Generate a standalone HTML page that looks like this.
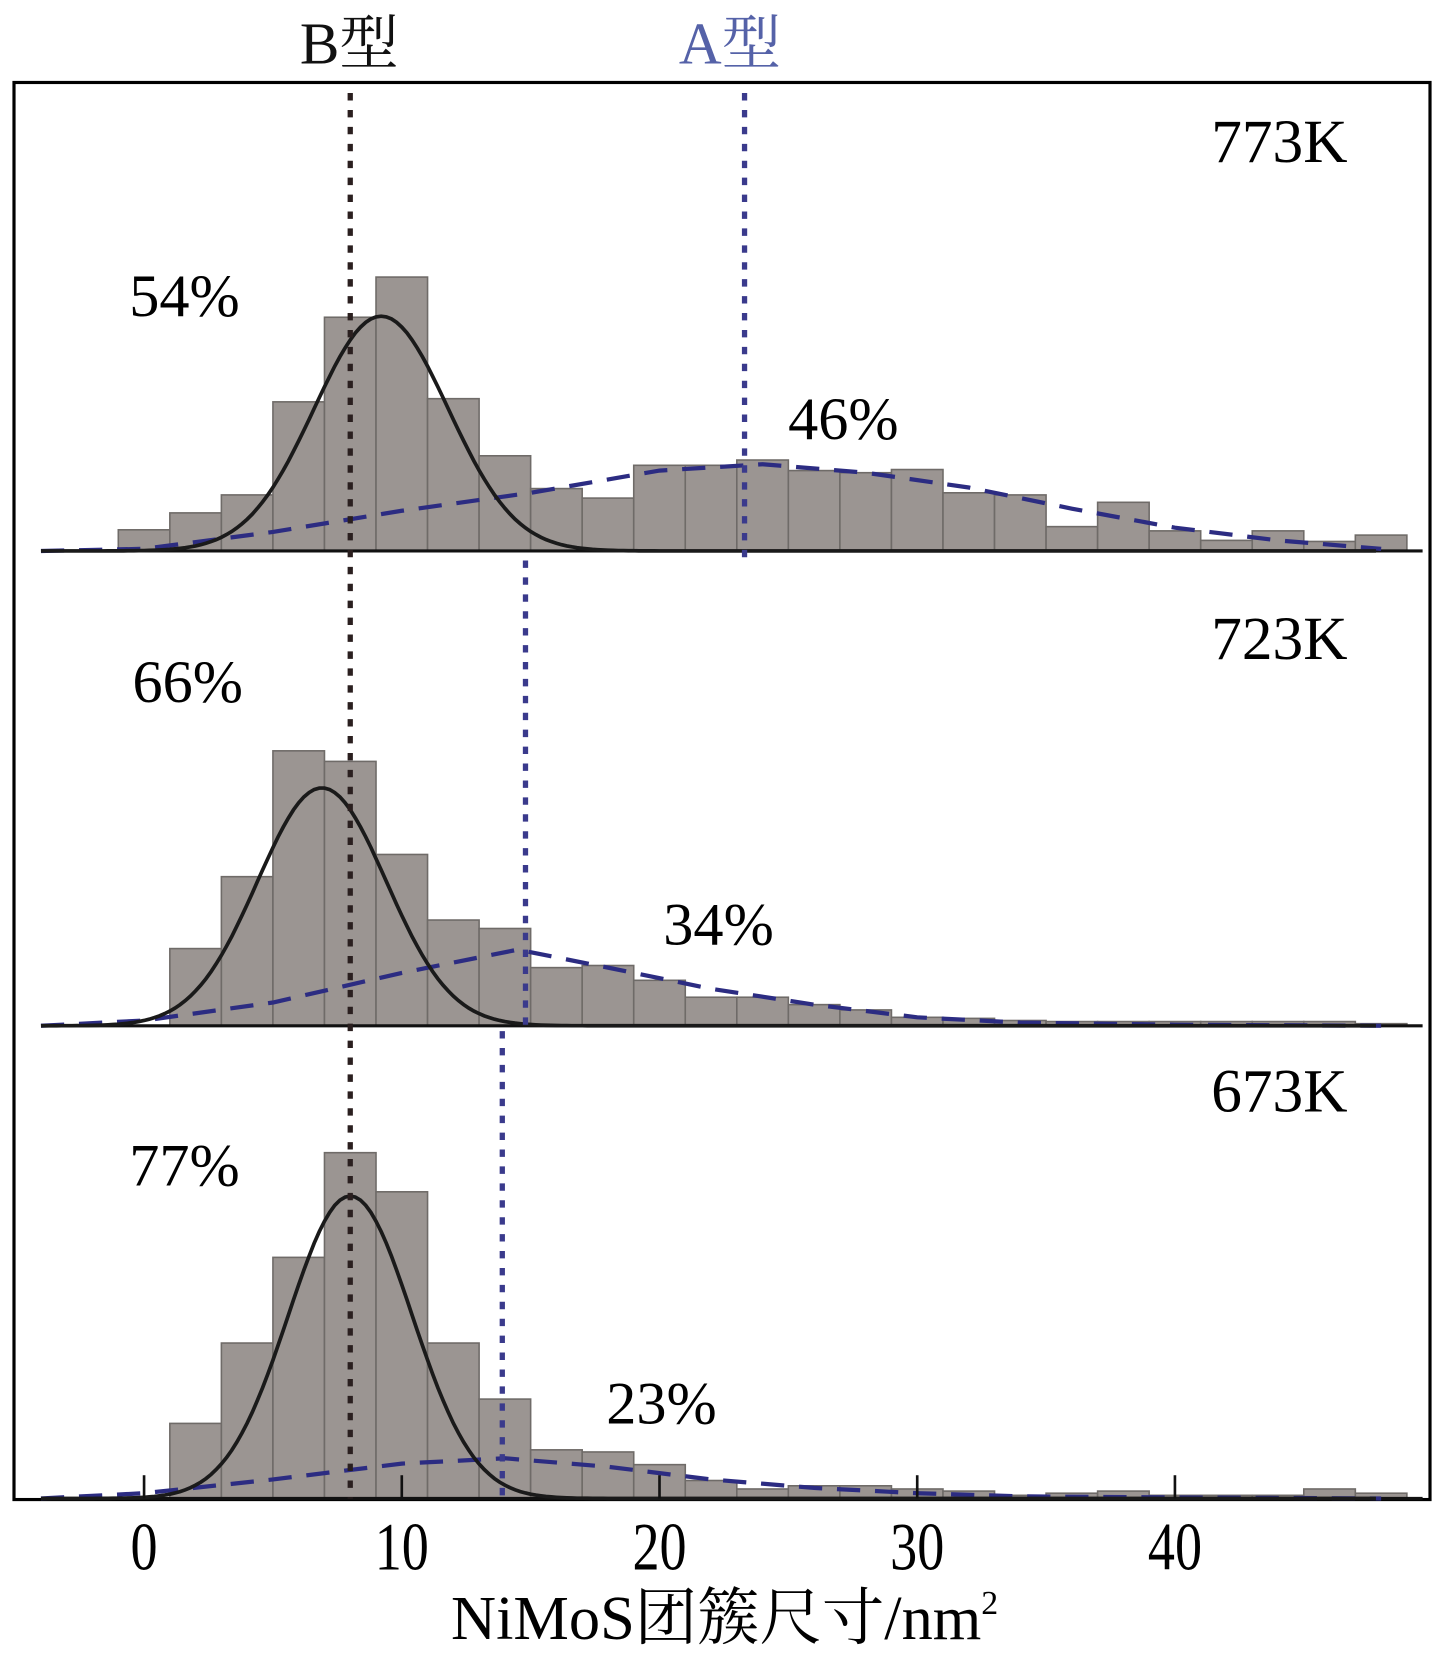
<!DOCTYPE html>
<html><head><meta charset="utf-8"><style>
html,body{margin:0;padding:0;background:#fff}
svg{display:block}
text{font-family:"Liberation Serif","Noto Serif CJK SC",serif}
</style></head><body>
<svg id="chart" width="1444" height="1655" viewBox="0 0 1365 1565" xmlns="http://www.w3.org/2000/svg">
<rect x="13" y="78" width="1339" height="1340" fill="#fff" stroke="#000" stroke-width="3"/>
<g id="marks"></g>
<text x="330" y="60" font-size="56" text-anchor="middle" fill="#111">B型</text>
<text x="690" y="60" font-size="56" text-anchor="middle" fill="#5562a8">A型</text>
<text x="1274" y="153" font-size="58" text-anchor="end">773K</text>
<text x="1274" y="623" font-size="58" text-anchor="end">723K</text>
<text x="1274" y="1051" font-size="58" text-anchor="end">673K</text>
<text x="122" y="299" font-size="57">54%</text>
<text x="745" y="415" font-size="57">46%</text>
<text x="125" y="664" font-size="57">66%</text>
<text x="627" y="893" font-size="57">34%</text>
<text x="122" y="1121" font-size="57">77%</text>
<text x="573" y="1346" font-size="57">23%</text>
<text x="685" y="1550" font-size="59" text-anchor="middle">NiMoS团簇尺寸/nm<tspan font-size="32" dy="-24">2</tspan></text>
</svg>
<script>
const binCenters=[0,2,4,6,8,10,12,14,16,18,20,22,24,26,28,30,32,34,36,38,40,42,44,46,48];
const counts773=[20,36,53,141,221,259,144,90,59,50,81,81,86,76,74,77,55,53,23,46,19,10,19,9,15];
const counts723=[0,73,141,260,250,162,100,92,55,57,43,27,27,20,15,8,7,5,4,4,4,4,4,4,2];
const counts673=[0,71,147,228,327,290,147,94,46,44,32,17,9,12,12,9,7,3,5,7,3,3,3,9,5];
const gauss773=[9.2,2.6,222];
const gauss723=[6.9,2.5,225];
const gauss673=[8.0,2.4,286];
const dashX773=[-4,0,5,10,15,20,24,28,32,36,40,44,48];
const dashY773=[0,2,18,38,55,76,82,74,60,40,22,10,2];
const dashX723=[-4,0,5,10,14.5,18,22,26,30,34,40,48];
const dashY723=[0,5,22,50,72,55,35,20,8,3,1,0];
const dashX673=[-4,0,5,10,14,18,22,26,30,34,40,48];
const dashY673=[0,5,18,33,38,30,18,10,5,2,1,0];
const bTypeX=8;
const aTypeX=[23.3,14.8,13.9];
const xTicks=[0,10,20,30,40];

const NS='http://www.w3.org/2000/svg';
const g=document.getElementById('marks');
const xs=v=>136+v*24.37;
const panels=[
 {name:'773k',base:521,top:88,counts:counts773,gauss:gauss773,dx:dashX773,dy:dashY773},
 {name:'723k',base:970,top:530,counts:counts723,gauss:gauss723,dx:dashX723,dy:dashY723},
 {name:'673k',base:1417,top:975,counts:counts673,gauss:gauss673,dx:dashX673,dy:dashY673}
];
function mk(tag,attrs){const e=document.createElementNS(NS,tag);for(const k in attrs)e.setAttribute(k,attrs[k]);g.appendChild(e);return e;}
panels.forEach((p,pi)=>{
  p.counts.forEach((c,i)=>{
    if(c<=0)return;
    const r=mk('rect',{x:xs(binCenters[i]-1),y:p.base-c,width:xs(2)-xs(0),height:c,fill:'#9b9592',stroke:'#6f6b68','stroke-width':1.5});
    
    
  });
  const bl=mk('line',{x1:40,x2:1345,y1:p.base,y2:p.base,stroke:'#111','stroke-width':3});
  
  
  let d='';
  p.dx.forEach((x,i)=>{d+=(i?'L':'M')+xs(x).toFixed(1)+','+(p.base-p.dy[i]).toFixed(1);});
  const dc=mk('path',{d:d,fill:'none',stroke:'#2c2c82','stroke-width':4,'stroke-dasharray':'22 14'});
  
  
  const [mu,s,h]=p.gauss;let gd='';
  for(let x=-4;x<=48;x+=0.2){const y=h*Math.exp(-((x-mu)**2)/(2*s*s));gd+=(x>-4?'L':'M')+xs(x).toFixed(1)+','+(p.base-y).toFixed(1);}
  const gc=mk('path',{d:gd,fill:'none',stroke:'#1a1a1a','stroke-width':3.5});
  
  
  const al=mk('line',{x1:xs(aTypeX[pi]),x2:xs(aTypeX[pi]),y1:p.top,y2:p.base+(pi==0?9:0),stroke:'#3a3a8c','stroke-width':5,'stroke-dasharray':'7 9'});
  
  
});
const bl2=mk('line',{x1:xs(bTypeX),x2:xs(bTypeX),y1:88,y2:1417,stroke:'#2a1f1f','stroke-width':5,'stroke-dasharray':'7 9'});


xTicks.forEach(t=>{
  const tk=mk('line',{x1:xs(t),x2:xs(t),y1:1417,y2:1395,stroke:'#111','stroke-width':2.5});
  
  
  const tl=mk('text',{x:0,y:0,'font-size':64,'text-anchor':'middle',transform:'translate('+xs(t)+',1484) scale(0.8,1)'});
  tl.textContent=t;
  
  
});
</script>
</body></html>
